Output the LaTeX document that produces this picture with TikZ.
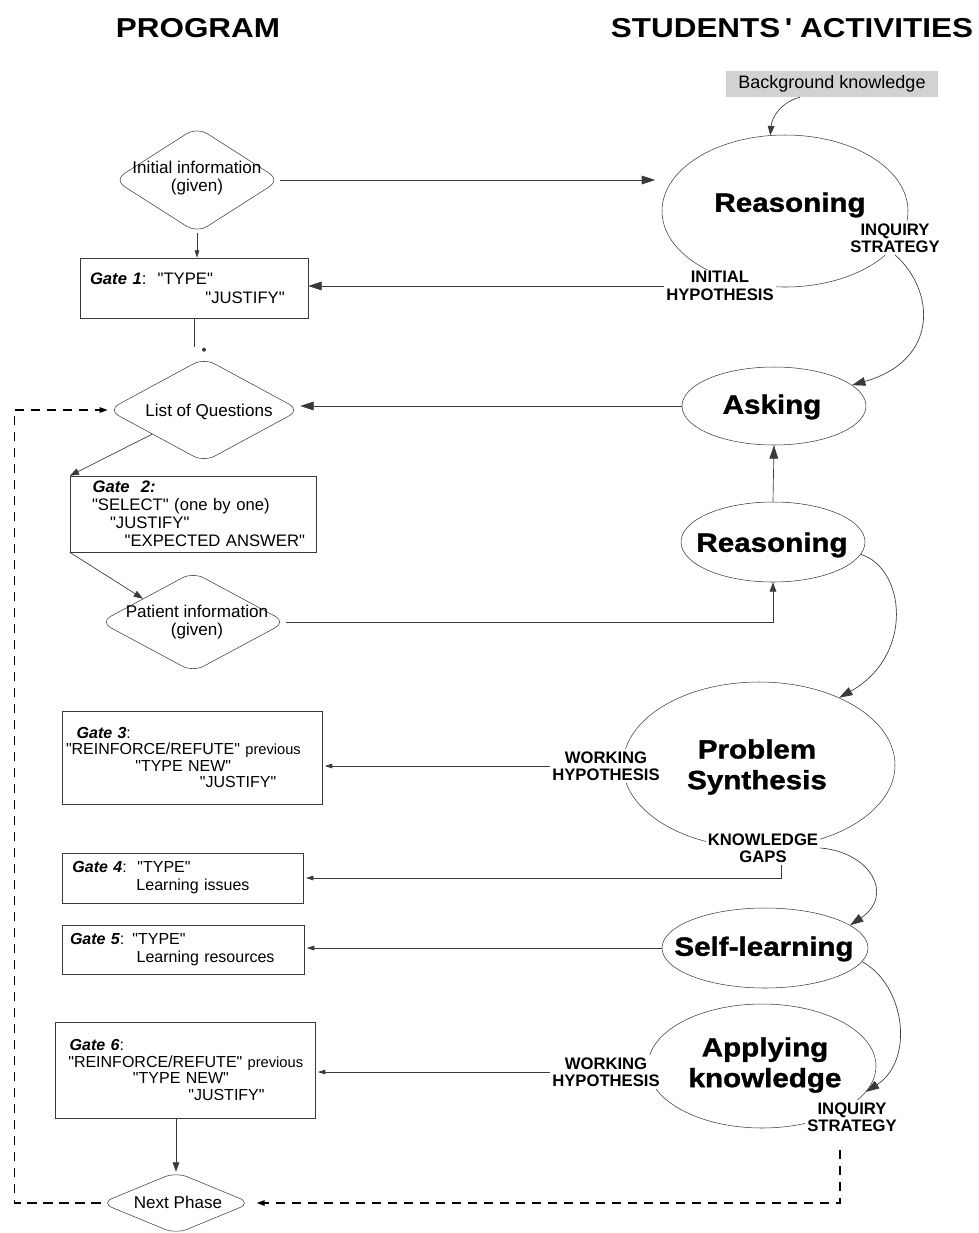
\documentclass[tikz,border=0pt]{standalone}
\usepackage{fontspec}
\setmainfont{Liberation Sans}[Ligatures=TeXOff]
\newfontfamily\widefont[FakeStretch=1.15]{Liberation Sans}
\newfontfamily\heavyfont[FakeStretch=1.12, FakeBold=1.3]{Liberation Sans Bold}
\usepackage{tikz}
\usetikzlibrary{shapes.geometric, arrows.meta}
\definecolor{lineGray}{HTML}{3A3A3A}
\definecolor{shadeGray}{HTML}{D2D2D2}
\newcommand{\gatename}[1]{\textbf{\textit{#1}}}

\begin{document}
\begin{tikzpicture}[x=0.75pt, y=-0.75pt, line width=0.5pt,
    title/.style={font=\widefont\bfseries\fontsize{20.5}{24}\selectfont},
    activity/.style={ellipse, draw=lineGray, line width=0.4pt, inner sep=0pt},
    acttext/.style={font=\heavyfont\fontsize{19.8}{23}\selectfont, align=center},
    tag/.style={fill=white, font=\bfseries\fontsize{12.5}{13}\selectfont, align=center, inner sep=1.5pt},
    decision/.style={diamond, draw=lineGray, line width=0.4pt, rounded corners=9pt, inner sep=0pt},
    dectext/.style={font=\fontsize{12.8}{13.5}\selectfont, align=center},
    gatebox/.style={draw=lineGray, line width=0.4pt, align=left, inner xsep=0pt, inner ysep=0pt, font=\fontsize{12}{12.4}\selectfont},
    plainline/.style={draw=lineGray},
    bigarrow/.style={draw=lineGray, -{Triangle[length=10pt,width=6.5pt]}},
    midarrow/.style={draw=lineGray, -{Triangle[length=7pt,width=5pt]}},
    smallarrow/.style={draw=lineGray, -{Triangle[length=5.5pt,width=3.5pt]}},
    loopline/.style={draw=black, line width=1.2pt, dash pattern=on 7pt off 5pt, -{Triangle[length=6pt,width=4pt]}}]

    \useasboundingbox (0,0) rectangle (979,1233);

    % Column titles
    \node[title] (progtitle) at (198,28) {PROGRAM};
    \node[title] (acttitle) at (792,28) {STUDENTS\,\textquotesingle\ ACTIVITIES};

    % Students' activities
    \node[fill=shadeGray, minimum width=159pt, minimum height=18pt, font=\fontsize{13.5}{15}\selectfont] (bgknow) at (832,84) {Background knowledge};
    \node[activity, minimum width=184.5pt, minimum height=114pt] (reason1) at (785,211) {};
    \node[activity, minimum width=138pt, minimum height=58.5pt] (asking) at (774,406) {};
    \node[activity, minimum width=138pt, minimum height=60pt] (reason2) at (773,542) {};
    \node[activity, minimum width=204pt, minimum height=124.5pt] (synth) at (759,765) {};
    \node[activity, minimum width=154.5pt, minimum height=60pt] (selflearn) at (765,948) {};
    \node[activity, minimum width=171pt, minimum height=93pt] (apply) at (762,1066) {};

    \node[acttext] (reason1txt) at (790,205) {Reasoning};
    \node[acttext] (askingtxt) at (772,407) {Asking};
    \node[acttext] (reason2txt) at (772,545) {Reasoning};
    \node[acttext] (synthtxt) at (757,767) {Problem\\Synthesis};
    \node[acttext] (selftxt) at (764,949) {Self-learning};
    \node[acttext] (applytxt) at (765,1065) {Applying\\knowledge};

    % Outcome tags (they break the ellipses)
    \node[tag] (inq1) at (895,238) {INQUIRY\\STRATEGY};
    \node[tag] (hyp1) at (720,286) {INITIAL\\HYPOTHESIS};
    \node[tag] (wh1) at (606,766) {WORKING\\HYPOTHESIS};
    \node[tag] (gaps) at (763,848) {KNOWLEDGE\\GAPS};
    \node[tag] (wh2) at (606,1072) {WORKING\\HYPOTHESIS};
    \node[tag] (inq2) at (852,1117) {INQUIRY\\STRATEGY};

    % Program
    \node[decision, minimum width=124.5pt, minimum height=79.5pt] (initinfo) at (197,180) {};
    \node[dectext] (initinfotxt) at (197,178) {Initial information\\(given)};
    \node[gatebox, text width=171pt, minimum height=45pt, font=\fontsize{12.5}{14}\selectfont] (gate1) at (194,288)
        {\hspace*{7.5pt}\gatename{Gate 1}:\ \ "TYPE"\\\hspace*{94pt}"JUSTIFY"};
    \node[decision, minimum width=144pt, minimum height=78pt] (listq) at (204,410) {};
    \node[dectext] (listqtxt) at (209,412) {List of Questions};
    \node[gatebox, text width=184.5pt, minimum height=57pt, font=\fontsize{12.5}{13.5}\selectfont] (gate2) at (193,514)
        {\hspace*{17pt}\gatename{Gate\ \ 2:}\\\hspace*{16.5pt}"SELECT" (one by one)\\\hspace*{30pt}"JUSTIFY"\\\hspace*{41pt}"EXPECTED ANSWER"};
    \node[decision, minimum width=139.5pt, minimum height=75pt] (patient) at (193,622) {};
    \node[dectext] (patienttxt) at (197,622) {Patient information\\(given)};
    \node[gatebox, text width=195pt, minimum height=70pt] (gate3) at (192,757.5)
        {\hspace*{11pt}\gatename{Gate 3}:\\\hspace*{3pt}"REINFORCE/REFUTE" {\fontsize{11}{12.4}\selectfont previous}\\\hspace*{55pt}"TYPE NEW"\\\hspace*{103.5pt}"JUSTIFY"};
    \node[gatebox, text width=181pt, minimum height=37.5pt, font=\fontsize{12}{13.5}\selectfont] (gate4) at (182.5,878)
        {\hspace*{8pt}\gatename{Gate 4}:\ \ "TYPE"\\\hspace*{56pt}Learning issues};
    \node[gatebox, text width=181.5pt, minimum height=37pt, font=\fontsize{12}{13.5}\selectfont] (gate5) at (183,949.5)
        {\hspace*{6pt}\gatename{Gate 5}: "TYPE"\\\hspace*{56pt}Learning resources};
    \node[gatebox, text width=195pt, minimum height=72pt] (gate6) at (185,1070)
        {\hspace*{11pt}\gatename{Gate 6}:\\\hspace*{10pt}"REINFORCE/REFUTE" {\fontsize{11}{12.4}\selectfont previous}\\\hspace*{58.5pt}"TYPE NEW"\\\hspace*{100pt}"JUSTIFY"};
    \node[decision, minimum width=112.5pt, minimum height=46.5pt] (nextphase) at (176,1203) {};
    \node[dectext] (nexttxt) at (178,1202) {Next Phase};

    % Program flow
    \draw[bigarrow] (initinfo.east) -- ([xshift=-5pt]initinfo.east -| reason1.west);
    \draw[smallarrow] (initinfo.south) -- (initinfo.south |- gate1.north);
    \coordinate (gapend) at (194,347);
    \draw[plainline] (gate1.south -| gapend) -- (gapend);
    \fill[lineGray] ([yshift=6pt]listq.north) circle (1.5pt);
    \draw[midarrow] (listq.205) -- (gate2.north west);
    \draw[midarrow] (gate2.south west) -- (patient.155);
    \draw[midarrow] (nextphase.north |- gate6.south) -- (nextphase.north);

    % Activities back to the program
    \draw[bigarrow] (hyp1.west) -- (hyp1.west -| gate1.east);
    \draw[bigarrow] (asking.west) -- (asking.west -| listq.east);
    \draw[midarrow] (patient.east) -| (reason2.south);
    \draw[bigarrow] (reason2.north) -- (asking.south);
    \draw[smallarrow] (wh1.west) -- ([xshift=2pt]wh1.west -| gate3.east);
    \draw[smallarrow] ([xshift=14pt]gaps.south) |- ([xshift=2pt]gate4.east);
    \draw[smallarrow] (selflearn.west) -- ([xshift=2pt]selflearn.west -| gate5.east);
    \draw[smallarrow] (wh2.west) -- ([xshift=2pt]wh2.west -| gate6.east);

    % Curved links between activities
    \draw[midarrow] ([xshift=-24pt]bgknow.south) .. controls (782,102) and (772,116) .. (reason1.101);
    \draw[bigarrow] (inq1.south) .. controls (935,290) and (940,360) .. (asking.15);
    \draw[bigarrow] (reason2.-8) .. controls (905,568) and (915,655) .. (synth.40);
    \draw[bigarrow] (gaps.east) .. controls (870,852) and (895,895) .. (selflearn.15);
    \draw[bigarrow] (selflearn.-8) .. controls (905,985) and (915,1060) .. (apply.-14);

    % Loop to the next phase
    \draw[loopline] ([xshift=-9pt,yshift=-12pt]inq2.south) |- ([xshift=4pt]nextphase.east);
    \draw[loopline] (nextphase.west) -| ([xshift=-70pt]listq.west) -- (listq.west);
\end{tikzpicture}
\end{document}
